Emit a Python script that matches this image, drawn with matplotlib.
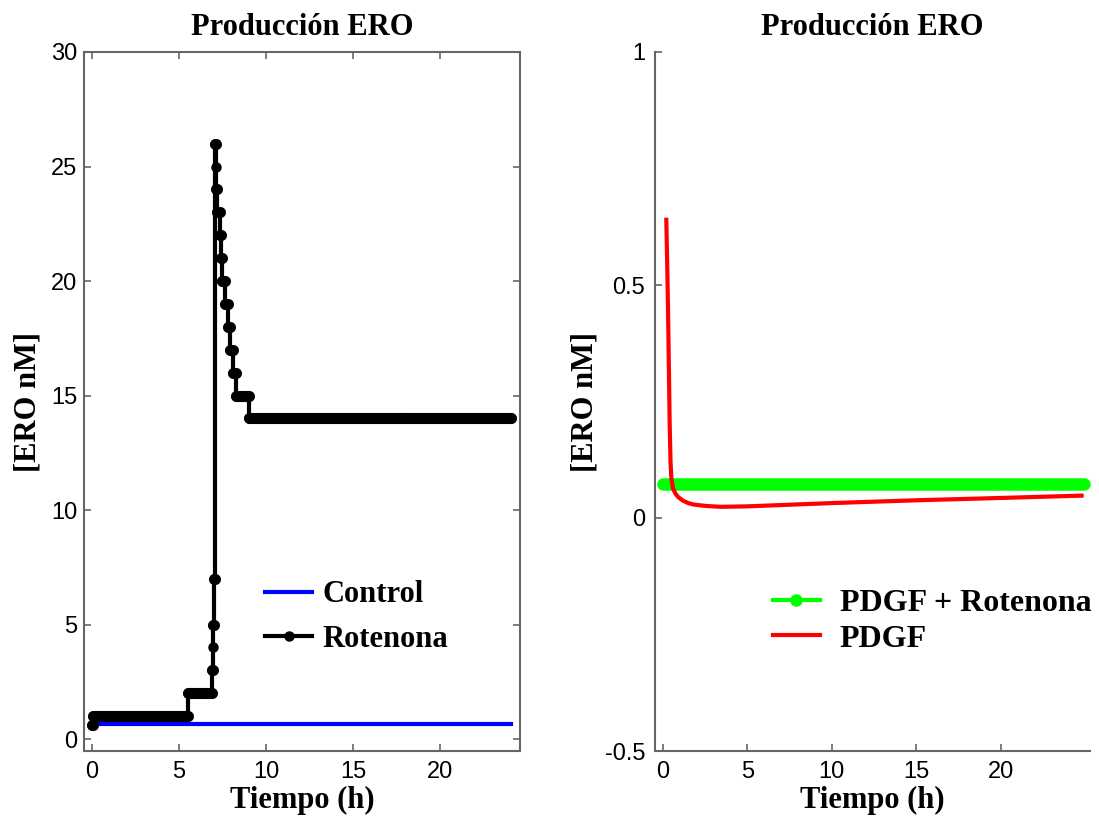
import numpy as np
import matplotlib
matplotlib.use("Agg")
import matplotlib.pyplot as plt

# ---- data ----
# left panel: Control (constant) and Rotenona (step response)
control_t = [0.0, 24.1]
control_v = [0.65, 0.65]

rot_t = [0.0, 0.05, 5.5, 6.9, 6.95, 6.98, 7.0, 7.05, 7.1, 7.15, 7.2,
         7.35, 7.4, 7.5, 7.65, 7.8, 7.95, 8.1, 8.3, 9.0, 17.7, 24.1]
rot_v = [0.6, 1, 2, 3, 4, 5, 7, 26, 25, 24, 23,
         22, 21, 20, 19, 18, 17, 16, 15, 14, 14, 14]

# right panel: PDGF + Rotenona (constant) and PDGF (decay)
pr_t = [0.0, 24.95]
pr_v = [0.072, 0.072]

pdgf_t = [0.2, 0.25, 0.3, 0.35, 0.4, 0.45, 0.5, 0.6, 0.75, 0.9, 1.2, 1.5,
          1.8, 2.5, 3.4, 5.0, 10.0, 15.0, 20.0, 24.8]
pdgf_v = [0.64, 0.55, 0.45, 0.33, 0.20, 0.12, 0.085, 0.063, 0.052, 0.045,
          0.037, 0.032, 0.029, 0.026, 0.024, 0.025, 0.032, 0.038, 0.043, 0.048]

title = "Producción ERO"
xlab = "Tiempo (h)"
ylab = "[ERO nM]"

serif = ["Liberation Serif", "DejaVu Serif"]
sans = ["Liberation Sans", "DejaVu Sans"]
plt.rcParams["font.family"] = sans

W, H = 1099, 816
fig = plt.figure(figsize=(W/100, H/100), dpi=100)
axL = fig.add_axes([84/W, 65/H, 436/W, 699/H])
axR = fig.add_axes([655/W, 65/H, 435/W, 699/H])

spine_c = "#666666"
tick_fs = 17
lab_fs = 22

# ---- left panel ----
axL.plot(control_t, control_v, color="#0000ff", lw=3, label="Control", zorder=2)
axL.plot(rot_t, rot_v, color="black", lw=3, drawstyle="steps-post",
         marker="o", ms=6.5, label="Rotenona", zorder=3)
# flat parts look thick in the original (dense solver markers)
axL.hlines(rot_v[:-1], rot_t[:-1], rot_t[1:], color="black", lw=8,
           capstyle="round", zorder=3)
axL.set_xlim(-0.46, 24.6)
axL.set_ylim(-0.52, 30)
axL.set_xticks([0, 5, 10, 15, 20])
axL.set_yticks([0, 5, 10, 15, 20, 25, 30])
axL.tick_params(direction="in", top=True, right=True, length=5,
                labelsize=tick_fs, color=spine_c, width=1.2)
axL.tick_params(axis="x", pad=7)
axL.tick_params(axis="y", pad=5)
for s in axL.spines.values():
    s.set_color(spine_c)
    s.set_linewidth(1.5)
axL.set_title(title, fontfamily=serif, fontweight="bold", fontsize=lab_fs, pad=12)
axL.set_xlabel(xlab, fontfamily=serif, fontweight="bold", fontsize=lab_fs, labelpad=2)
axL.set_ylabel(ylab, fontfamily=serif, fontweight="bold", fontsize=lab_fs, labelpad=6)
axL.legend(loc="center left", bbox_to_anchor=(265/W, 1 - 617/H),
           bbox_transform=fig.transFigure, frameon=False,
           borderpad=0, borderaxespad=0,
           prop={"family": serif, "weight": "bold", "size": 22},
           handlelength=1.55, handletextpad=0.33, labelspacing=0.5)

# ---- right panel ----
axR.plot(pr_t, pr_v, color="#00ff00", lw=9, solid_capstyle="round",
         zorder=2, clip_on=False)
axR.plot(pdgf_t, pdgf_v, color="#ff0000", lw=3, zorder=3, label="PDGF")
# legend proxy for the green series (line with circle marker)
axR.plot([], [], color="#00ff00", lw=3, marker="o", ms=8, label="PDGF + Rotenona")
axR.set_xlim(-0.47, 25.3)
axR.set_ylim(-0.5, 1)
axR.set_xticks([0, 5, 10, 15, 20])
axR.set_yticks([-0.5, 0, 0.5, 1])
axR.set_yticklabels(["-0.5", "0", "0.5", "1"])
axR.tick_params(direction="in", length=5, labelsize=tick_fs, color=spine_c, width=1.2)
axR.tick_params(axis="x", pad=7)
axR.tick_params(axis="y", pad=7)
axR.spines["top"].set_visible(False)
axR.spines["right"].set_visible(False)
for k in ("left", "bottom"):
    axR.spines[k].set_color(spine_c)
    axR.spines[k].set_linewidth(1.5)
axR.set_title(title, fontfamily=serif, fontweight="bold", fontsize=lab_fs, pad=12)
axR.set_xlabel(xlab, fontfamily=serif, fontweight="bold", fontsize=lab_fs, labelpad=2)
axR.set_ylabel(ylab, fontfamily=serif, fontweight="bold", fontsize=lab_fs, labelpad=4)
h, l = axR.get_legend_handles_labels()
axR.legend([h[1], h[0]], [l[1], l[0]], loc="center left",
           bbox_to_anchor=(773/W, 1 - 621/H), bbox_transform=fig.transFigure,
           frameon=False, borderpad=0, borderaxespad=0,
           prop={"family": serif, "weight": "bold", "size": 23},
           handlelength=1.47, handletextpad=0.62, labelspacing=0.2)

fig.savefig("out.png", dpi=100)
